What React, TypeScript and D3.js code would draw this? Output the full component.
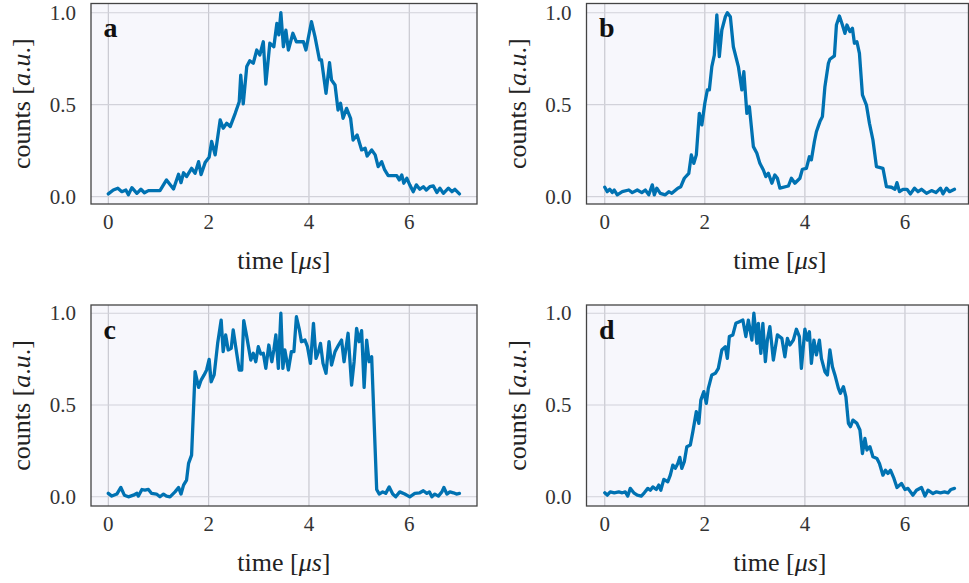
import React from "react";
import * as d3 from "d3";

// ---- data (time in µs, normalised counts) ----
const seriesA: [number, number][] = [
  [0.0, 0.015], [0.1, 0.036], [0.19, 0.046], [0.27, 0.027], [0.35, 0.036], [0.4, 0.01], [0.47, 0.049],
  [0.57, 0.018], [0.65, 0.04], [0.72, 0.021], [0.8, 0.033], [1.03, 0.033], [1.16, 0.091], [1.3, 0.042],
  [1.4, 0.122], [1.45, 0.076], [1.5, 0.13], [1.56, 0.109], [1.66, 0.154], [1.73, 0.127], [1.8, 0.19],
  [1.85, 0.12], [1.93, 0.185], [2.01, 0.214], [2.06, 0.3], [2.13, 0.227], [2.23, 0.417], [2.29, 0.372],
  [2.36, 0.399], [2.43, 0.381], [2.53, 0.453], [2.61, 0.516], [2.64, 0.661], [2.69, 0.504], [2.76, 0.707],
  [2.82, 0.739], [2.89, 0.725], [2.96, 0.797], [3.02, 0.77], [3.09, 0.842], [3.14, 0.612], [3.22, 0.834],
  [3.3, 0.815], [3.36, 0.942], [3.4, 0.879], [3.44, 1.0], [3.49, 0.815], [3.54, 0.905], [3.59, 0.797],
  [3.68, 0.888], [3.75, 0.842], [3.89, 0.842], [3.94, 0.797], [4.05, 0.951], [4.12, 0.87], [4.21, 0.743],
  [4.25, 0.743], [4.34, 0.562], [4.41, 0.728], [4.45, 0.634], [4.52, 0.607], [4.58, 0.471], [4.63, 0.508],
  [4.68, 0.426], [4.75, 0.48], [4.83, 0.426], [4.88, 0.308], [4.96, 0.335], [5.05, 0.254], [5.12, 0.263],
  [5.16, 0.221], [5.25, 0.254], [5.32, 0.227], [5.38, 0.163], [5.45, 0.19], [5.51, 0.145], [5.58, 0.114],
  [5.75, 0.114], [5.8, 0.091], [5.85, 0.118], [5.89, 0.073], [5.95, 0.1], [6.01, 0.064], [6.08, 0.027],
  [6.14, 0.064], [6.21, 0.04], [6.28, 0.054], [6.34, 0.036], [6.41, 0.054], [6.48, 0.058], [6.55, 0.022],
  [6.61, 0.046], [6.68, 0.018], [6.78, 0.046], [6.85, 0.027], [6.91, 0.04], [7.0, 0.015],
];

const seriesB: [number, number][] = [
  [0.0, 0.051], [0.05, 0.027], [0.1, 0.04], [0.15, 0.022], [0.19, 0.036], [0.25, 0.01], [0.35, 0.027],
  [0.48, 0.036], [0.55, 0.022], [0.65, 0.036], [0.74, 0.022], [0.81, 0.036], [0.88, 0.01], [0.95, 0.064],
  [0.99, 0.01], [1.04, 0.046], [1.11, 0.018], [1.21, 0.01], [1.28, 0.027], [1.34, 0.018], [1.46, 0.046],
  [1.52, 0.054], [1.59, 0.1], [1.68, 0.127], [1.73, 0.227], [1.78, 0.181], [1.83, 0.227], [1.89, 0.453],
  [1.94, 0.39], [2.0, 0.508], [2.05, 0.58], [2.09, 0.58], [2.14, 0.707], [2.19, 0.77], [2.24, 0.988],
  [2.29, 0.761], [2.34, 0.906], [2.41, 0.978], [2.45, 1.0], [2.51, 0.978], [2.57, 0.815], [2.67, 0.707],
  [2.74, 0.58], [2.78, 0.679], [2.84, 0.453], [2.89, 0.489], [2.97, 0.272], [3.04, 0.236], [3.1, 0.181],
  [3.17, 0.145], [3.22, 0.109], [3.27, 0.127], [3.34, 0.073], [3.4, 0.118], [3.45, 0.1], [3.5, 0.046],
  [3.67, 0.058], [3.73, 0.1], [3.8, 0.073], [3.9, 0.1], [3.95, 0.149], [4.03, 0.154], [4.09, 0.217],
  [4.13, 0.2], [4.19, 0.3], [4.23, 0.353], [4.3, 0.408], [4.35, 0.435], [4.4, 0.598], [4.47, 0.725],
  [4.5, 0.747], [4.59, 0.765], [4.63, 0.933], [4.69, 0.982], [4.75, 0.933], [4.8, 0.888], [4.84, 0.933],
  [4.9, 0.897], [4.95, 0.915], [4.99, 0.834], [5.04, 0.842], [5.09, 0.779], [5.15, 0.553], [5.23, 0.498],
  [5.29, 0.399], [5.36, 0.308], [5.43, 0.163], [5.56, 0.154], [5.63, 0.054], [5.73, 0.051], [5.8, 0.04],
  [5.84, 0.076], [5.89, 0.027], [5.96, 0.04], [6.04, 0.04], [6.11, 0.015], [6.19, 0.046], [6.26, 0.027],
  [6.33, 0.04], [6.43, 0.018], [6.53, 0.033], [6.62, 0.022], [6.71, 0.046], [6.76, 0.015], [6.83, 0.046],
  [6.89, 0.027], [6.99, 0.04],
];

const seriesC: [number, number][] = [
  [0.0, 0.019], [0.07, 0.004], [0.17, 0.015], [0.25, 0.051], [0.32, 0.009], [0.4, 0.0], [0.5, 0.009],
  [0.57, 0.019], [0.6, 0.004], [0.67, 0.04], [0.73, 0.036], [0.8, 0.04], [0.86, 0.019], [0.96, 0.015],
  [1.03, 0.0], [1.1, 0.015], [1.16, 0.004], [1.23, 0.0], [1.33, 0.027], [1.4, 0.051], [1.45, 0.015],
  [1.5, 0.064], [1.56, 0.091], [1.6, 0.182], [1.66, 0.227], [1.73, 0.682], [1.8, 0.596], [1.85, 0.636],
  [1.91, 0.664], [1.96, 0.691], [2.01, 0.749], [2.05, 0.627], [2.11, 0.664], [2.18, 0.836], [2.25, 0.963],
  [2.29, 0.791], [2.34, 0.882], [2.39, 0.8], [2.45, 0.809], [2.49, 0.909], [2.54, 0.818], [2.61, 0.691],
  [2.66, 0.691], [2.7, 0.96], [2.76, 0.873], [2.84, 0.745], [2.89, 0.782], [2.94, 0.736], [2.99, 0.818],
  [3.04, 0.778], [3.09, 0.782], [3.14, 0.7], [3.2, 0.827], [3.26, 0.736], [3.3, 0.8], [3.34, 0.882],
  [3.39, 0.7], [3.44, 1.0], [3.48, 0.7], [3.52, 0.8], [3.59, 0.691], [3.65, 0.791], [3.7, 0.791],
  [3.75, 0.981], [3.81, 0.909], [3.85, 0.845], [3.92, 0.854], [3.97, 0.818], [4.03, 0.727], [4.09, 0.945],
  [4.14, 0.754], [4.19, 0.791], [4.23, 0.836], [4.28, 0.727], [4.34, 0.673], [4.4, 0.845], [4.45, 0.718],
  [4.52, 0.791], [4.59, 0.827], [4.65, 0.854], [4.7, 0.736], [4.78, 0.891], [4.85, 0.609], [4.9, 0.736],
  [4.95, 0.918], [5.0, 0.845], [5.05, 0.905], [5.1, 0.596], [5.15, 0.854], [5.2, 0.736], [5.25, 0.763],
  [5.35, 0.04], [5.4, 0.015], [5.47, 0.027], [5.53, 0.019], [5.6, 0.054], [5.67, 0.015], [5.73, 0.0],
  [5.81, 0.027], [5.91, 0.015], [6.01, 0.0], [6.11, 0.019], [6.21, 0.022], [6.28, 0.033], [6.35, 0.019],
  [6.4, 0.027], [6.45, 0.0], [6.51, 0.015], [6.58, 0.004], [6.65, 0.027], [6.69, 0.051], [6.75, 0.015],
  [6.81, 0.027], [6.88, 0.022], [6.94, 0.015], [7.0, 0.019],
];

const seriesD: [number, number][] = [
  [0.0, 0.022], [0.05, 0.009], [0.11, 0.027], [0.19, 0.022], [0.28, 0.027], [0.35, 0.022], [0.41, 0.027],
  [0.46, 0.004], [0.51, 0.046], [0.58, 0.022], [0.65, 0.009], [0.73, 0.004], [0.79, 0.022], [0.86, 0.046],
  [0.91, 0.036], [0.96, 0.054], [1.03, 0.04], [1.08, 0.064], [1.12, 0.036], [1.18, 0.095], [1.26, 0.082],
  [1.31, 0.118], [1.36, 0.173], [1.41, 0.155], [1.46, 0.182], [1.5, 0.215], [1.54, 0.155], [1.59, 0.191],
  [1.64, 0.273], [1.71, 0.282], [1.76, 0.354], [1.83, 0.464], [1.88, 0.4], [1.92, 0.527], [1.98, 0.573],
  [2.03, 0.509], [2.07, 0.591], [2.14, 0.664], [2.21, 0.673], [2.27, 0.7], [2.34, 0.8], [2.41, 0.818],
  [2.45, 0.754], [2.49, 0.873], [2.56, 0.882], [2.62, 0.945], [2.69, 0.954], [2.76, 0.963], [2.82, 0.873],
  [2.87, 0.963], [2.94, 0.854], [2.98, 1.0], [3.04, 0.836], [3.07, 0.945], [3.12, 0.782], [3.16, 0.945],
  [3.21, 0.736], [3.25, 0.854], [3.3, 0.927], [3.37, 0.745], [3.45, 0.882], [3.54, 0.863], [3.6, 0.763],
  [3.65, 0.863], [3.7, 0.827], [3.77, 0.854], [3.83, 0.913], [3.89, 0.873], [3.93, 0.7], [4.0, 0.913],
  [4.05, 0.854], [4.09, 0.899], [4.13, 0.727], [4.18, 0.854], [4.23, 0.773], [4.29, 0.854], [4.33, 0.754],
  [4.4, 0.682], [4.45, 0.664], [4.5, 0.8], [4.55, 0.709], [4.6, 0.664], [4.67, 0.591], [4.71, 0.564],
  [4.77, 0.6], [4.82, 0.545], [4.87, 0.4], [4.91, 0.382], [4.96, 0.418], [5.04, 0.4], [5.1, 0.364],
  [5.15, 0.236], [5.2, 0.318], [5.24, 0.255], [5.3, 0.273], [5.36, 0.218], [5.44, 0.209], [5.49, 0.182],
  [5.56, 0.118], [5.61, 0.145], [5.66, 0.127], [5.71, 0.145], [5.78, 0.1], [5.84, 0.051], [5.93, 0.073],
  [6.0, 0.04], [6.06, 0.046], [6.16, 0.009], [6.23, 0.036], [6.33, 0.051], [6.4, 0.004], [6.46, 0.036],
  [6.56, 0.018], [6.63, 0.027], [6.71, 0.022], [6.79, 0.027], [6.86, 0.022], [6.92, 0.04], [6.99, 0.046],
];

const panelLetters = ["a", "b", "c", "d"];
const xTicks = [0, 2, 4, 6];
const yTicks = [0, 0.5, 1.0];

// ---- layout ----
const W = 969;
const H = 583;
const cols = [
  { left: 91, right: 477, domain: [-0.345, 7.35] },
  { left: 586.5, right: 968.5, domain: [-0.365, 7.27] },
];
const rows = [
  { top: 3.5, bottom: 204, domain: [-0.04, 1.05] },
  { top: 305, bottom: 506, domain: [-0.05, 1.045] },
];

const FONT = "'Liberation Serif', 'DejaVu Serif', serif";
const LINE = "#0072B2";

function Panel({ data, letter, col, row }: { data: [number, number][]; letter: string; col: number; row: number }) {
  const c = cols[col];
  const r = rows[row];
  const x = d3.scaleLinear().domain(c.domain).range([c.left, c.right]);
  const y = d3.scaleLinear().domain(r.domain).range([r.bottom, r.top]);
  const line = d3
    .line<[number, number]>()
    .x((d) => x(d[0]))
    .y((d) => y(d[1]));
  const clipId = `clip-${letter}`;
  return (
    <g>
      <defs>
        <clipPath id={clipId}>
          <rect x={c.left} y={r.top} width={c.right - c.left} height={r.bottom - r.top} />
        </clipPath>
      </defs>
      <rect x={c.left} y={r.top} width={c.right - c.left} height={r.bottom - r.top} fill="#F7F7FC" />
      {xTicks.map((t) => (
        <line key={"gx" + t} x1={x(t)} x2={x(t)} y1={r.top} y2={r.bottom} stroke="#c4c4cc" strokeWidth={1.1} />
      ))}
      {yTicks.map((t) => (
        <line key={"gy" + t} x1={c.left} x2={c.right} y1={y(t)} y2={y(t)} stroke="#d2d2da" strokeWidth={1.1} />
      ))}
      <path
        d={line(data) || ""}
        fill="none"
        stroke={LINE}
        strokeWidth={3.3}
        strokeLinejoin="round"
        strokeLinecap="round"
        clipPath={`url(#${clipId})`}
      />
      <rect
        x={c.left}
        y={r.top}
        width={c.right - c.left}
        height={r.bottom - r.top}
        fill="none"
        stroke="#444"
        strokeWidth={1.3}
      />
      <text x={c.left + 12.5} y={r.top + 33.5} fontFamily={FONT} fontWeight="bold" fontSize={28} fill="#111">
        {letter}
      </text>
      {xTicks.map((t) => (
        <text
          key={"tx" + t}
          x={x(t)}
          y={r.bottom + 25}
          textAnchor="middle"
          fontFamily={FONT}
          fontSize={21}
          fill="#333"
        >
          {d3.format("d")(t)}
        </text>
      ))}
      {yTicks.map((t) => (
        <text
          key={"ty" + t}
          x={c.left - 15}
          y={y(t) + 7}
          textAnchor="end"
          fontFamily={FONT}
          fontSize={21}
          fill="#333"
        >
          {d3.format(".1f")(t)}
        </text>
      ))}
      <text
        x={(x(0) + x(7)) / 2}
        y={r.bottom + 65}
        textAnchor="middle"
        fontFamily={FONT}
        fontSize={26}
        fill="#222"
      >
        time [<tspan fontStyle="italic">μs</tspan>]
      </text>
      <text
        transform={`translate(${c.left - 61},${(r.top + r.bottom) / 2}) rotate(-90)`}
        textAnchor="middle"
        fontFamily={FONT}
        fontSize={26}
        fill="#222"
      >
        counts [<tspan fontStyle="italic">a</tspan>.<tspan fontStyle="italic">u</tspan>.]
      </text>
    </g>
  );
}

export default function App() {
  const all = [seriesA, seriesB, seriesC, seriesD];
  return (
    <svg
      width={W}
      height={H}
      viewBox={`0 0 ${W} ${H}`}
      style={{ position: "absolute", left: 0, top: 0, background: "#fff" }}
    >
      {all.map((s, i) => (
        <Panel key={i} data={s} letter={panelLetters[i]} col={i % 2} row={Math.floor(i / 2)} />
      ))}
    </svg>
  );
}
